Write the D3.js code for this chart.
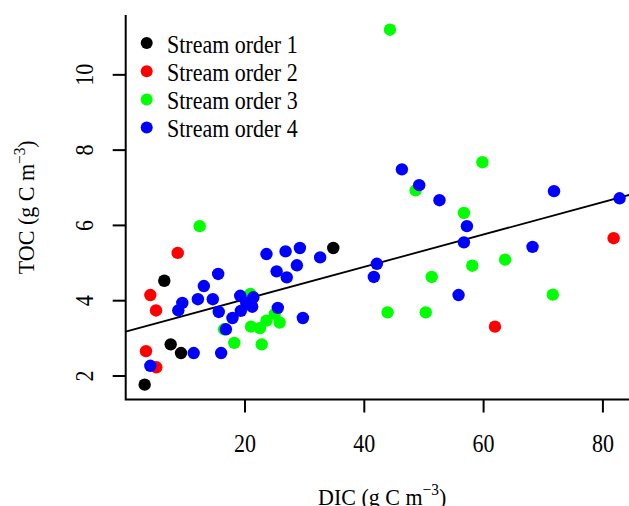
<!DOCTYPE html>
<html><head><meta charset="utf-8">
<script src="https://cdn.jsdelivr.net/npm/d3@7"></script>
<style>html,body{margin:0;padding:0;background:#fff;overflow:hidden}svg{display:block}text{font-family:"Liberation Serif","Times New Roman",serif;fill:#000}</style>
</head><body>
<script>
// ---- data ----
const order1X = [3.18, 6.47, 7.54, 9.27, 34.8];
const order1Y = [1.77, 4.53, 2.84, 2.61, 5.40];
const order2X = [3.40, 4.13, 5.08, 5.13, 8.72, 61.9, 81.8];
const order2Y = [2.66, 4.15, 3.74, 2.23, 5.27, 3.31, 5.66];
const order3X = [12.4, 16.5, 18.2, 20.9, 21.0, 22.5, 22.8, 23.6, 25.0, 25.8, 43.9, 44.3, 48.6, 50.3, 51.3, 56.7, 58.1, 59.8, 63.6, 71.6];
const order3Y = [5.98, 3.24, 2.88, 4.18, 3.31, 3.27, 2.84, 3.47, 3.65, 3.42, 3.69, 11.2, 6.93, 3.69, 4.63, 6.33, 4.93, 7.68, 5.09, 4.16];
const order4X = [4.13, 8.82, 9.49, 11.4, 12.1, 13.1, 14.6, 15.5, 15.6, 16.0, 16.8, 17.9, 19.2, 19.3, 20.2, 21.2, 21.4, 23.6, 25.3, 25.5, 26.8, 27.0, 28.7, 29.2, 29.7, 32.6, 41.6, 42.1, 46.3, 49.2, 52.6, 55.8, 56.7, 57.2, 68.2, 71.8, 82.8];
const order4Y = [2.27, 3.74, 3.94, 2.61, 4.04, 4.39, 4.04, 4.71, 3.70, 2.61, 3.24, 3.54, 4.13, 3.73, 3.95, 3.84, 4.09, 5.24, 4.78, 3.81, 5.31, 4.62, 4.94, 5.40, 3.54, 5.15, 4.63, 4.98, 7.49, 7.07, 6.67, 4.15, 5.55, 5.98, 5.43, 6.91, 6.72];
const seriesNames = ["Stream order 1", "Stream order 2", "Stream order 3", "Stream order 4"];
const seriesColors = ["#000000", "#ff0000", "#00ff00", "#0000ff"];
const xTicks = [20, 40, 60, 80];
const yTicks = [2, 4, 6, 8, 10];
const fitIntercept = 3.18;
const fitSlope = 0.043;
const xDomain = [0, 86.0];
const yDomain = [1.375, 11.59];

(function(){
// ---- layout ----
const W = 629, H = 506;
const pL = 125.7, pR = 638.7, pT = 15, pB = 399.5;
const svg = d3.select("body").append("svg").attr("width", W).attr("height", H);
const x = d3.scaleLinear().domain(xDomain).range([pL, pR]);
const y = d3.scaleLinear().domain(yDomain).range([pB, pT]);
const FS = 22, STR = 1.12;

svg.append("clipPath").attr("id","clip").append("rect")
  .attr("x", pL).attr("y", pT).attr("width", pR-pL).attr("height", pB-pT);

// regression line
svg.append("line").attr("clip-path","url(#clip)")
  .attr("x1", x(xDomain[0])).attr("y1", y(fitIntercept + fitSlope*xDomain[0]))
  .attr("x2", x(xDomain[1])).attr("y2", y(fitIntercept + fitSlope*xDomain[1]))
  .attr("stroke","#000").attr("stroke-width",1.8);

// points
const series = [[order1X,order1Y],[order2X,order2Y],[order3X,order3Y],[order4X,order4Y]];
series.forEach((s,i) => {
  const pts = s[0].map((v,j) => [v, s[1][j]]);
  svg.append("g").selectAll("circle").data(pts).join("circle")
    .attr("cx", d => x(d[0])).attr("cy", d => y(d[1])).attr("r", 6.2)
    .attr("fill", seriesColors[i]);
});

// box (L shape)
svg.append("path").attr("d", `M${pL},${pT}V${pB}H${W+2}`)
  .attr("fill","none").attr("stroke","#000").attr("stroke-width",2);

// x axis ticks
const gx = svg.append("g");
gx.selectAll("line").data(xTicks).join("line")
  .attr("x1", d=>x(d)).attr("x2", d=>x(d)).attr("y1", pB).attr("y2", pB+13)
  .attr("stroke","#000").attr("stroke-width",2);
gx.selectAll("text").data(xTicks).join("text")
  .attr("transform", d=>`translate(${x(d)},451.5) scale(1,${STR})`)
  .attr("text-anchor","middle").attr("font-size",FS).text(d=>d);

// y axis ticks
const gy = svg.append("g");
gy.selectAll("line").data(yTicks).join("line")
  .attr("x1", pL-13).attr("x2", pL).attr("y1", d=>y(d)).attr("y2", d=>y(d))
  .attr("stroke","#000").attr("stroke-width",2);
gy.selectAll("text").data(yTicks).join("text")
  .attr("transform", d=>`translate(93.3,${y(d)}) rotate(-90) scale(1,${STR})`)
  .attr("text-anchor","middle").attr("font-size",FS).text(d=>d);

// axis titles
const xt = svg.append("text").attr("transform",`translate(${(pL+pR)/2},504.5) scale(1,1.05)`)
  .attr("text-anchor","middle").attr("font-size",FS);
xt.append("tspan").text("DIC (g C m");
xt.append("tspan").attr("font-size",FS*0.7).attr("dy",-9).text("\u22123");
xt.append("tspan").attr("dy",9).text(")");

const yt = svg.append("text").attr("transform",`translate(34,${(pT+pB)/2}) rotate(-90) scale(1,1.05)`)
  .attr("text-anchor","middle").attr("font-size",FS);
yt.append("tspan").text("TOC (g C m");
yt.append("tspan").attr("font-size",FS*0.7).attr("dy",-9).text("\u22123");
yt.append("tspan").attr("dy",9).text(")");

// legend
const lg = svg.append("g");
seriesNames.forEach((n,i) => {
  const ly = 43 + i*28.2;
  lg.append("circle").attr("cx",146.7).attr("cy",ly).attr("r",6).attr("fill",seriesColors[i]);
  lg.append("text").attr("transform",`translate(167,${ly+9.7}) scale(1,${STR})`)
    .attr("font-size",FS).text(n);
});
})();
</script>
</body></html>
